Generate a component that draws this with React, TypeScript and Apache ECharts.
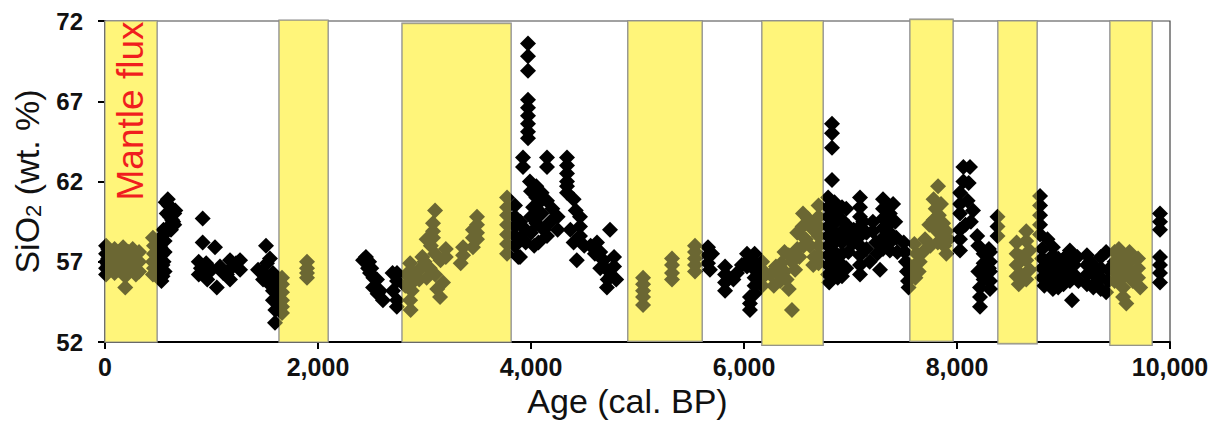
import React, { useEffect, useRef } from "react";
import * as echarts from "echarts";

// Axis ticks
const xTickValues = [0, 2000, 4000, 6000, 8000, 10000];
const yTickValues = [52, 57, 62, 67, 72];

// "Mantle flux" periods (cal. BP) with their drawn vertical extent (wt. %)
const bandStart = [0, 1635, 2790, 4910, 6169, 7559, 8385, 9437];
const bandEnd = [488, 2094, 3812, 5606, 6742, 7962, 8751, 9831];
const bandLow = [52, 52, 52, 52.05, 51.8, 52.05, 51.9, 51.8];
const bandHigh = [72, 72.05, 71.85, 72, 72, 72.1, 72, 72];

// SiO2 data [age cal. BP, SiO2 wt.%]
const seg0to700 = [
  [10, 58.0], [10, 57.5], [10, 57.0], [10, 56.6], [10, 56.2], [30, 57.8], [30, 57.2], [30, 56.8],
  [90, 57.8], [90, 57.3], [90, 56.8], [90, 56.3], [130, 57.6], [130, 57.0], [130, 56.5], [170, 57.9],
  [170, 57.3], [170, 56.7], [190, 56.1], [190, 55.4], [220, 57.6], [220, 57.1], [220, 56.6], [260, 57.8],
  [260, 57.2], [260, 56.6], [290, 57.5], [290, 57.0], [290, 56.2], [320, 57.6], [320, 57.0], [320, 56.4],
  [450, 58.5], [460, 58.0], [460, 57.5], [450, 57.0], [460, 56.6], [450, 56.2],
  [570, 60.7], [600, 60.5], [630, 60.3], [650, 60.0], [580, 60.0], [610, 59.8], [640, 59.5], [600, 59.2],
  [630, 59.6], [660, 60.2], [590, 60.9], [620, 59.0], [650, 59.3],
  [510, 58.4], [520, 57.9], [530, 57.4], [510, 57.0], [540, 56.8], [520, 56.4], [540, 56.1], [530, 55.8],
  [560, 57.6], [560, 58.3], [550, 57.0], [560, 56.4], [540, 58.6], [550, 59.0], [520, 56.0],
];
const seg850to1300 = [
  [917, 59.7], [917, 58.2], [1033, 57.9], [880, 57.0], [900, 56.6], [930, 56.3], [950, 56.9], [880, 56.2],
  [960, 55.9], [1050, 55.4], [1080, 56.7], [1110, 56.3], [1145, 56.2], [1174, 57.1], [1174, 55.9],
  [1200, 56.7], [1268, 57.1], [1268, 56.5], [1230, 56.9], [1000, 56.5],
];
const seg1400to1950 = [
  [1512, 58.0], [1549, 57.2], [1437, 56.5], [1484, 55.9], [1521, 56.9], [1480, 56.4], [1577, 56.3],
  [1577, 55.8], [1577, 55.2], [1577, 54.6], [1600, 55.6], [1615, 56.0], [1615, 55.0], [1596, 53.2],
  [1630, 54.4], [1600, 54.0], [1540, 56.0], [1560, 55.5], [1620, 55.3],
  [1662, 56.0], [1662, 55.6], [1662, 55.1], [1662, 54.6], [1662, 54.2], [1662, 53.8],
  [1897, 57.0], [1897, 56.6], [1897, 56.3], [1897, 56.0],
];
const seg2400to2800 = [
  [2423, 57.1], [2450, 57.3], [2460, 56.9], [2480, 57.0], [2470, 56.6], [2488, 56.3], [2520, 56.0],
  [2554, 55.9], [2517, 55.4], [2582, 55.2], [2610, 54.6], [2560, 55.0], [2700, 56.3], [2742, 56.3],
  [2742, 55.8], [2704, 55.2], [2742, 54.6], [2740, 54.2], [2500, 56.6], [2540, 55.4],
];
const seg2800to3800 = [
  [2865, 56.9], [2880, 56.4], [2900, 55.8], [2880, 55.2], [2865, 54.6], [2870, 54.0],
  [3020, 58.4], [3060, 58.0], [3100, 57.5], [3150, 57.1], [3000, 57.0], [3050, 56.6], [3100, 56.2],
  [3200, 57.8], [3200, 57.3], [3020, 56.0],
  [3099, 60.2], [3080, 59.4], [3080, 58.9], [3080, 58.5],
  [3146, 54.8], [3174, 55.7], [3120, 55.3],
  [3362, 57.9], [3362, 57.4], [3340, 56.9], [3455, 59.0], [3455, 58.5], [3455, 57.9],
  [3493, 59.8], [3493, 59.3], [3493, 58.8], [3493, 58.4],
  [3775, 61.0], [3775, 60.4], [3775, 59.9], [3775, 59.3], [3775, 58.7], [3775, 58.1], [3775, 57.5],
  [2950, 56.5], [2950, 55.9], [2980, 57.3], [2820, 55.5], [2830, 56.2],
];
const seg3800to4850 = [
  [3972, 70.6], [3972, 69.8], [3972, 68.9],
  [3972, 67.1], [3972, 66.6], [3972, 66.1], [3972, 65.6], [3972, 65.1], [3972, 64.7],
  [3925, 63.5], [3925, 62.9], [4150, 63.5], [4150, 62.9],
  [4338, 63.5], [4338, 63.0], [4338, 62.5], [4338, 62.0], [4338, 61.7],
  [3850, 60.5], [3850, 59.8], [3850, 59.2], [3850, 58.6], [3850, 58.0], [3880, 57.3], [3897, 57.3],
  [3990, 62.0], [4000, 61.4], [4050, 61.0], [4020, 60.4], [4080, 60.7], [4100, 60.0], [4000, 59.8],
  [4050, 59.4], [4120, 59.0], [4150, 58.6], [4000, 58.8], [4070, 58.2], [3950, 59.0], [3950, 58.2],
  [4200, 60.3], [4180, 59.5], [3900, 59.5], [3900, 58.5], [4050, 61.7], [4100, 61.3], [4150, 60.8],
  [4250, 59.8], [4250, 59.0], [4030, 58.0],
  [4338, 61.3], [4400, 60.9], [4420, 60.2],
  [4460, 59.8], [4460, 59.2], [4460, 58.6], [4400, 58.2], [4430, 57.1], [4370, 59.0], [4500, 58.0],
  [4742, 59.0],
  [4620, 58.2], [4650, 57.6], [4680, 57.1], [4700, 56.6], [4750, 56.1], [4780, 56.7], [4780, 57.3],
  [4800, 55.9], [4720, 55.9], [4650, 56.6], [4600, 57.5], [4560, 58.0], [4713, 55.4],
];
const seg4900to5600 = [
  [5052, 56.0], [5052, 55.6], [5052, 55.2], [5052, 54.8], [5052, 54.3],
  [5324, 57.2], [5324, 56.8], [5324, 56.3], [5324, 55.9],
  [5540, 58.0], [5540, 57.6], [5540, 57.2], [5540, 56.8], [5540, 56.4],
];
const seg5600to6150 = [
  [5662, 57.9], [5662, 57.4], [5662, 56.9], [5680, 56.5], [5700, 57.5],
  [5822, 56.7], [5822, 56.2], [5822, 55.7], [5822, 55.2], [5860, 56.0], [5934, 56.3], [5900, 55.9],
  [6028, 57.5], [6028, 57.0], [6028, 56.7], [5980, 56.8], [6056, 54.8], [6056, 54.4], [6056, 54.0],
  [6100, 57.5], [6100, 57.0], [6100, 56.5], [6100, 56.0], [6100, 55.5], [6100, 55.0],
];
const seg6150to6750 = [
  [6170, 57.0], [6170, 56.5], [6170, 56.0], [6170, 55.5],
  [6300, 56.7], [6320, 56.2], [6340, 55.8], [6350, 56.9], [6380, 56.4], [6400, 55.9], [6280, 55.5],
  [6420, 55.3], [6420, 57.4], [6450, 57.0], [6480, 56.5], [6500, 57.8], [6520, 57.3],
  [6500, 58.8], [6550, 59.2], [6580, 58.4], [6620, 58.0], [6600, 59.7], [6650, 59.0], [6554, 60.0],
  [6700, 60.5], [6700, 59.8], [6700, 59.2], [6700, 58.6], [6700, 58.0], [6700, 57.4], [6700, 56.9],
  [6450, 54.0], [6660, 57.3], [6650, 56.8], [6250, 56.2], [6380, 57.6], [6560, 58.0], [6620, 59.5],
];
const seg6750to7560 = [
  [6826, 65.6], [6826, 65.0], [6826, 64.1], [6826, 62.1],
  [6790, 61.0], [6790, 60.4], [6790, 59.8], [6790, 59.2], [6790, 58.6], [6790, 58.0], [6790, 57.4],
  [6790, 56.8], [6790, 56.2], [6800, 55.7],
  [6850, 60.7], [6850, 60.0], [6850, 59.4], [6850, 58.8], [6850, 58.2], [6850, 57.6], [6850, 57.0],
  [6850, 56.4], [6880, 59.7], [6880, 58.5], [6880, 57.3], [6880, 56.0],
  [6920, 60.4], [6920, 59.6], [6920, 58.9], [6920, 58.2], [6920, 57.5], [6920, 56.8], [6920, 56.1],
  [6980, 59.2], [6980, 58.4], [6980, 57.6], [6960, 60.3], [6960, 56.6], [7000, 58.8],
  [7089, 61.0], [7089, 60.4], [7089, 59.8], [7089, 59.2], [7089, 58.6], [7089, 58.0], [7089, 57.4],
  [7089, 56.8], [7089, 56.2],
  [7030, 59.0], [7030, 58.2], [7150, 58.8], [7150, 57.8], [7180, 57.0], [7277, 56.5],
  [7120, 59.5], [7240, 58.2], [7250, 57.5],
  [7305, 60.9], [7305, 60.3], [7305, 59.7], [7305, 59.1], [7305, 58.5], [7305, 57.8],
  [7370, 60.0], [7370, 59.4], [7370, 58.8], [7370, 58.2], [7370, 57.7], [7210, 59.5], [7210, 58.9],
  [7400, 60.6], [7420, 59.5], [7430, 58.5], [7440, 57.6],
  [7500, 58.2], [7510, 57.6], [7520, 57.0], [7530, 56.4], [7540, 55.8], [7545, 55.4],
];
const seg7560to7960 = [
  [7822, 61.7], [7780, 60.9], [7800, 60.3], [7850, 60.6], [7780, 59.6], [7830, 59.9], [7870, 59.4],
  [7800, 59.0], [7850, 58.7], [7900, 58.9], [7820, 58.2], [7880, 58.0], [7920, 58.4], [7900, 57.5],
  [7600, 58.1], [7620, 57.5], [7650, 57.0], [7680, 57.6], [7700, 58.4], [7640, 56.4], [7610, 56.0],
  [7590, 56.7], [7740, 59.3], [7750, 58.0],
];
const seg7960to8380 = [
  [8122, 62.9], [8110, 61.9], [8060, 62.9], [8060, 62.0],
  [8028, 61.3], [8028, 60.6], [8028, 60.0], [8028, 59.0], [8028, 58.4], [8028, 57.7],
  [8190, 58.6], [8200, 58.0], [8250, 57.5], [8250, 56.9], [8300, 57.8], [8300, 56.6],
  [8216, 55.4], [8216, 54.8], [8216, 54.2],
  [8310, 57.6], [8310, 57.0], [8310, 56.4], [8310, 55.8], [8310, 55.3],
  [8130, 59.5], [8150, 60.2], [8100, 60.8], [8200, 56.4], [8250, 55.9], [8080, 59.3],
];
const seg8380to8750 = [
  [8380, 59.8], [8380, 59.2], [8380, 58.6],
  [8650, 58.9], [8650, 58.3], [8680, 57.7], [8650, 57.1], [8680, 56.5], [8650, 55.9], [8600, 56.2],
  [8600, 57.3], [8560, 58.2], [8560, 57.5], [8560, 56.8], [8560, 56.1], [8580, 55.6],
];
const seg8750to9440 = [
  [8780, 61.1], [8780, 60.5], [8780, 59.9], [8780, 59.3], [8780, 58.7],
  [8850, 58.4], [8900, 57.9], [8900, 57.4],
  [8800, 57.8], [8800, 57.2], [8800, 56.6], [8800, 56.0], [8820, 55.5], [8880, 57.0], [8880, 56.4],
  [8880, 55.8], [8900, 55.3], [8950, 57.2], [8950, 56.6], [8950, 56.0], [8950, 55.4], [9000, 56.8],
  [9000, 56.2], [9000, 55.6], [9050, 57.5], [9050, 57.0], [9050, 56.4], [9060, 55.8], [9100, 56.2],
  [9100, 56.8], [9080, 54.6], [9060, 57.7], [8840, 57.0], [8840, 56.0], [8920, 56.8], [8980, 55.9],
  [9020, 57.3], [9130, 57.3], [9140, 55.8],
  [9220, 57.4], [9220, 56.8], [9220, 56.2], [9220, 55.6], [9280, 56.8], [9280, 56.2], [9280, 55.4],
  [9350, 57.3], [9350, 56.6], [9350, 56.0], [9350, 55.3], [9400, 57.6], [9420, 56.5], [9420, 55.8],
  [9400, 55.1], [9250, 57.0], [9320, 55.8],
];
const seg9440to10000 = [
  [9480, 57.6], [9480, 57.0], [9480, 56.4], [9480, 55.8], [9520, 57.8], [9550, 57.2], [9550, 56.6],
  [9550, 56.0], [9560, 55.4], [9560, 54.8], [9620, 57.6], [9620, 57.0], [9620, 56.4], [9650, 55.8],
  [9700, 57.2], [9700, 56.6], [9700, 56.0], [9720, 55.4], [9590, 54.4],
  [9906, 60.0], [9906, 59.5], [9906, 59.0], [9906, 57.3], [9906, 56.8], [9906, 56.3], [9906, 55.7],
];

const FONT = "'Liberation Sans', Arial, Helvetica, sans-serif";
const YELLOW = "#fff57a";

export default function App() {
  const ref = useRef<HTMLDivElement>(null);

  useEffect(() => {
    if (!ref.current) return;
    const chart = echarts.init(ref.current, undefined, { renderer: "svg" });

    const points = [
      ...seg0to700, ...seg850to1300, ...seg1400to1950, ...seg2400to2800, ...seg2800to3800,
      ...seg3800to4850, ...seg4900to5600, ...seg5600to6150, ...seg6150to6750, ...seg6750to7560,
      ...seg7560to7960, ...seg7960to8380, ...seg8380to8750, ...seg8750to9440, ...seg9440to10000,
    ];
    const bands = bandStart.map((s, i) => [s, bandEnd[i], bandLow[i], bandHigh[i]]);

    const bandRenderer = (fill: string, stroke: string | null, opacity: number) =>
      (params: any, api: any) => {
        const p0 = api.coord([api.value(0), api.value(3)]);
        const p1 = api.coord([api.value(1), api.value(2)]);
        return {
          type: "rect",
          shape: { x: p0[0], y: p0[1], width: p1[0] - p0[0], height: p1[1] - p0[1] },
          style: {
            fill,
            opacity,
            stroke: stroke || "none",
            lineWidth: stroke ? 1.6 : 0,
          },
        };
      };

    chart.setOption({
      animation: false,
      grid: {
        left: 105,
        top: 21,
        right: 53,
        bottom: 88,
        show: true,
        borderColor: "#444",
        borderWidth: 1.2,
        backgroundColor: "transparent",
      },
      xAxis: {
        type: "value",
        min: xTickValues[0],
        max: xTickValues[xTickValues.length - 1],
        interval: 2000,
        name: "Age (cal. BP)",
        nameLocation: "middle",
        nameGap: 38,
        nameTextStyle: { fontFamily: FONT, fontSize: 34, color: "#111", padding: [0, 20, 0, 0] },
        axisLine: { show: true, onZero: false, lineStyle: { color: "#000", width: 2 } },
        axisTick: { show: true, length: 7, lineStyle: { color: "#000", width: 2 } },
        axisLabel: {
          fontFamily: FONT,
          fontSize: 25,
          fontWeight: "bold",
          color: "#111",
          margin: 12,
          formatter: (v: number) => v.toLocaleString("en-US"),
        },
        splitLine: { show: false },
      },
      yAxis: {
        type: "value",
        min: yTickValues[0],
        max: yTickValues[yTickValues.length - 1],
        interval: 5,
        name: "{a|SiO}{b|2}{a| (wt. %)}",
        nameLocation: "middle",
        nameGap: 61,
        nameRotate: 90,
        nameTextStyle: {
          fontFamily: FONT,
          color: "#111",
          rich: {
            a: { fontFamily: FONT, fontSize: 34, color: "#111", lineHeight: 40, verticalAlign: "bottom" },
            b: { fontFamily: FONT, fontSize: 22, color: "#111", lineHeight: 26, verticalAlign: "bottom" },
          },
        },
        axisLine: { show: true, onZero: false, lineStyle: { color: "#000", width: 2 } },
        axisTick: { show: true, length: 7, lineStyle: { color: "#000", width: 2 } },
        axisLabel: {
          fontFamily: FONT,
          fontSize: 24,
          fontWeight: "bold",
          color: "#111",
          margin: 22,
        },
        splitLine: { show: false },
      },
      graphic: [
        {
          type: "text",
          x: 130,
          y: 111,
          rotation: Math.PI / 2,
          z: 100,
          style: {
            text: "Mantle flux",
            fontFamily: FONT,
            fontSize: 37,
            fill: "#f01e1e",
            textAlign: "center",
            textVerticalAlign: "middle",
          },
        },
      ],
      series: [
        {
          type: "custom",
          z: 1,
          clip: false,
          silent: true,
          data: bands,
          encode: { x: [0, 1], y: [2, 3] },
          renderItem: bandRenderer(YELLOW, "#8a8a8a", 1),
        },
        {
          type: "scatter",
          z: 2,
          symbol: "diamond",
          symbolSize: 16,
          itemStyle: { color: "#000", opacity: 1 },
          data: points,
        },
        {
          type: "custom",
          z: 3,
          clip: false,
          silent: true,
          data: bands,
          encode: { x: [0, 1], y: [2, 3] },
          renderItem: bandRenderer(YELLOW, null, 0.42),
        },
      ],
    });

    return () => chart.dispose();
  }, []);

  return (
    <div
      ref={ref}
      style={{ position: "absolute", left: 0, top: 0, width: 1223, height: 430 }}
    />
  );
}
